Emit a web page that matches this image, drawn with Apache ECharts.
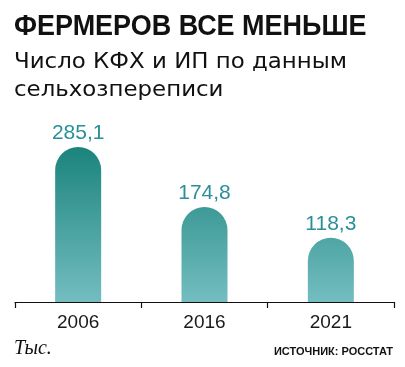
<!DOCTYPE html>
<html><head><meta charset="utf-8">
<script src="https://cdn.jsdelivr.net/npm/echarts@6/dist/echarts.min.js"></script>
<style>html,body{margin:0;padding:0;background:#fff}#c{width:405px;height:367px}</style>
</head><body><div id="c"></div>
<script>
const titleText = 'ФЕРМЕРОВ ВСЕ МЕНЬШЕ';
const subtitleLines = ['Число КФХ и ИП по данным', 'сельхозпереписи'];
const unitText = 'Тыс.';
const sourceText = 'ИСТОЧНИК: РОССТАТ';
const categories = ['2006', '2016', '2021'];
const values = [285.1, 174.8, 118.3];

const chart = echarts.init(document.getElementById('c'), null, {renderer: 'canvas'});
const grad = new echarts.graphic.LinearGradient(0, 147, 0, 302, [
  {offset: 0, color: '#1b847c'},
  {offset: 1, color: '#74bdc1'}
], true);
chart.setOption({
  animation: false,
  backgroundColor: '#fff',
  grid: {left: 15, right: 11, top: 101, bottom: 65, containLabel: false},
  xAxis: {
    type: 'category', data: categories, boundaryGap: true,
    axisLine: {lineStyle: {color: '#111', width: 1.2}},
    axisTick: {show: true, length: 6, lineStyle: {color: '#111', width: 1.2}},
    axisLabel: {color: '#1a1a1a', fontSize: 19, fontFamily: 'Liberation Sans, sans-serif', margin: 11}
  },
  yAxis: {type: 'value', min: 0, max: 370, show: false, splitLine: {show: false}},
  series: [{
    type: 'bar', data: values, barWidth: 46,
    itemStyle: {color: grad, borderRadius: [23, 23, 0, 0]},
    label: {
      show: true, position: 'top', distance: 3,
      color: '#2a8f98', fontSize: 21,
      fontFamily: 'Liberation Sans, sans-serif',
      formatter: p => String(p.value).replace('.', ',')
    }
  }],
  graphic: [
    {type: 'text', x: 14, y: 12, scaleX: 0.93, style: {text: titleText, font: 'bold 29px "Liberation Sans", sans-serif', fill: '#111'}},
    {type: 'text', x: 14, y: 52, scaleX: 1.09, style: {text: subtitleLines[0], font: '21px "DejaVu Sans", sans-serif', fill: '#111'}},
    {type: 'text', x: 14, y: 80, scaleX: 1.09, style: {text: subtitleLines[1], font: '21px "DejaVu Sans", sans-serif', fill: '#111'}},
    {type: 'text', left: 14, top: 339, style: {text: unitText, font: 'italic 20px "Liberation Serif", serif', fill: '#111'}},
    {type: 'text', right: 12, top: 346, style: {text: sourceText, font: 'bold 11px "Liberation Sans", sans-serif', fill: '#111'}}
  ]
});
</script></body></html>
